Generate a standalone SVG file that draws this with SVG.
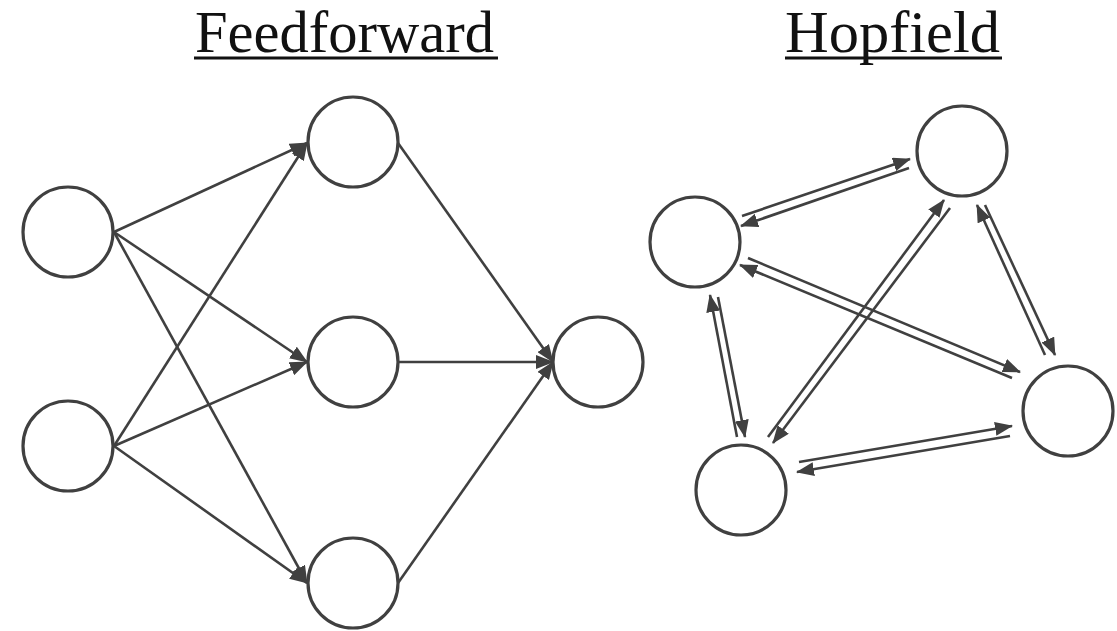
<svg xmlns="http://www.w3.org/2000/svg" width="1117" height="631" viewBox="0 0 1117 631">
  <style>
    .node { fill: #ffffff; stroke: #404040; stroke-width: 3.2; }
    .edge { fill: none; stroke: #404040; stroke-width: 2.6; marker-end: url(#arrow); }
    .title { font-family: "Liberation Serif", "DejaVu Serif", serif; font-size: 59px; fill: #111111; }
    .rule { stroke: #111111; stroke-width: 2.8; }
  </style>
  <defs>
    <marker id="arrow" markerUnits="userSpaceOnUse" markerWidth="18" markerHeight="14" refX="17" refY="7" orient="auto">
      <path d="M0,0 L18,7 L0,14 Z" fill="#404040"/>
    </marker>
  </defs>
  <rect width="1117" height="631" fill="#ffffff"/>

  <!-- Titles -->
  <g id="title-feedforward">
    <text class="title" x="195" y="52" textLength="299" lengthAdjust="spacingAndGlyphs">Feedforward</text>
    <line class="rule" x1="194" y1="58" x2="498" y2="58"/>
  </g>
  <g id="title-hopfield">
    <text class="title" x="785" y="52" textLength="215" lengthAdjust="spacingAndGlyphs">Hopfield</text>
    <line class="rule" x1="785" y1="58" x2="1002" y2="58"/>
  </g>

  <!-- Connectors -->
  <g id="connectors">
    <!-- feedforward: inputs to hidden layer -->
    <line class="edge" x1="114" y1="232" x2="307" y2="143"/>
    <line class="edge" x1="114" y1="232" x2="307" y2="362"/>
    <line class="edge" x1="114" y1="232" x2="307" y2="583"/>
    <line class="edge" x1="114" y1="446" x2="307" y2="143"/>
    <line class="edge" x1="114" y1="446" x2="307" y2="362"/>
    <line class="edge" x1="114" y1="446" x2="307" y2="583"/>
    <!-- feedforward: hidden layer to output -->
    <line class="edge" x1="398" y1="143" x2="553" y2="362"/>
    <line class="edge" x1="398" y1="362" x2="553" y2="362"/>
    <line class="edge" x1="398" y1="583" x2="553" y2="362"/>

    <!-- hopfield: paired links -->
    <line class="edge" x1="742" y1="216" x2="910" y2="159"/>
    <line class="edge" x1="909" y1="168" x2="741" y2="226"/>

    <line class="edge" x1="748" y1="258" x2="1020" y2="372"/>
    <line class="edge" x1="1012" y1="378" x2="740" y2="265"/>

    <line class="edge" x1="737" y1="437" x2="710" y2="295"/>
    <line class="edge" x1="718" y1="297" x2="745" y2="437"/>

    <line class="edge" x1="768" y1="437" x2="944" y2="200"/>
    <line class="edge" x1="950" y1="208" x2="773" y2="443"/>

    <line class="edge" x1="1045" y1="355" x2="977" y2="205"/>
    <line class="edge" x1="985" y1="205" x2="1055" y2="355"/>

    <line class="edge" x1="799" y1="462" x2="1012" y2="426"/>
    <line class="edge" x1="1010" y1="436" x2="797" y2="472"/>
  </g>

  <!-- Feedforward nodes -->
  <g id="ff-in-1"><circle class="node" cx="68" cy="232" r="45"/></g>
  <g id="ff-in-2"><circle class="node" cx="68" cy="446" r="45"/></g>
  <g id="ff-hid-1"><circle class="node" cx="353" cy="142" r="45"/></g>
  <g id="ff-hid-2"><circle class="node" cx="353" cy="362" r="45"/></g>
  <g id="ff-hid-3"><circle class="node" cx="353" cy="583" r="45"/></g>
  <g id="ff-out"><circle class="node" cx="598" cy="362" r="45"/></g>

  <!-- Hopfield nodes -->
  <g id="hop-a"><circle class="node" cx="695" cy="242" r="45"/></g>
  <g id="hop-b"><circle class="node" cx="962" cy="151" r="45"/></g>
  <g id="hop-c"><circle class="node" cx="1068" cy="411" r="45"/></g>
  <g id="hop-d"><circle class="node" cx="741" cy="490" r="45"/></g>
</svg>
